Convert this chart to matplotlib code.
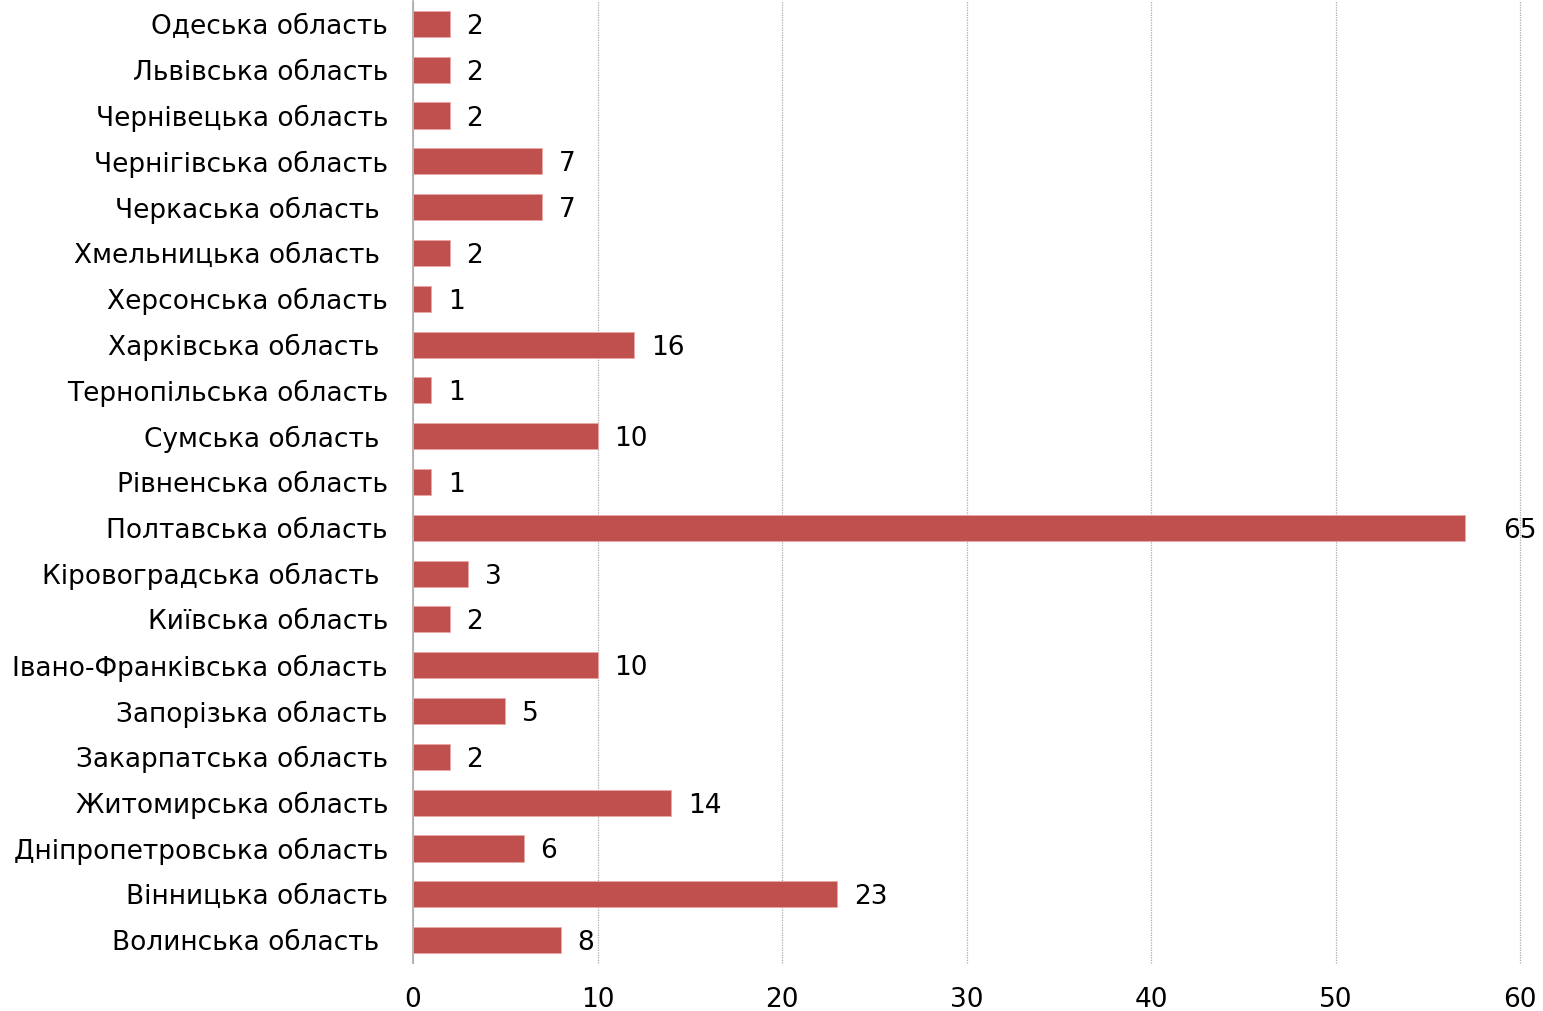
import numpy as np
import matplotlib.pyplot as plt

# regions listed bottom to top, as they appear on the y axis
regions = ['Волинська область ', 'Вінницька область', 'Дніпропетровська область',
           'Житомирська область', 'Закарпатська область', 'Запорізька область',
           'Івано-Франківська область', 'Київська область', 'Кіровоградська область ',
           'Полтавська область', 'Рівненська область', 'Сумська область ',
           'Тернопільська область', 'Харківська область ', 'Херсонська область',
           'Хмельницька область ', 'Черкаська область ', 'Чернігівська область',
           'Чернівецька область', 'Львівська область', 'Одеська область']
# printed labels
counts = [8, 23, 6, 14, 2, 5, 10, 2, 3, 65, 1, 10, 1, 16, 1, 2, 7, 7, 2, 2, 2]
# bar lengths as drawn in the original (two of them do not match their labels)
bar_lengths = [8, 23, 6, 14, 2, 5, 10, 2, 3, 57, 1, 10, 1, 12, 1, 2, 7, 7, 2, 2, 2]
xticks = [0, 10, 20, 30, 40, 50, 60]

bar_color = '#C0504D'
fs = 19

plt.rcParams['font.family'] = 'DejaVu Sans'
fig = plt.figure(figsize=(15.43, 10.11), dpi=100)
ax = fig.add_axes([413 / 1543, 1 - 963 / 1011, (1520 - 413) / 1543, 962 / 1011])

y = np.arange(len(regions))
ax.barh(y, bar_lengths, height=0.57, color=bar_color, edgecolor='#E8A8A6', linewidth=0.6, zorder=3)

for yi, c, b in zip(y, counts, bar_lengths):
    if c > xticks[-1]:
        # value runs past the axis, label sits at the right edge
        ax.text(xticks[-1], yi, str(c), va='center_baseline', ha='center', fontsize=fs)
    else:
        ax.annotate(str(c), (b, yi), xytext=(12, 0), textcoords='offset points',
                    va='center_baseline', ha='left', fontsize=fs)

ax.set_xlim(0, xticks[-1])
ax.set_ylim(-0.5, len(regions) - 0.5)
ax.set_xticks(xticks)
ax.set_yticks(y)
ax.set_yticklabels(regions)
ax.tick_params(axis='both', length=0, labelsize=fs)
ax.tick_params(axis='y', pad=18)
ax.tick_params(axis='x', pad=17)

ax.grid(axis='x', linestyle=(0, (1, 1)), color='#AAAAAA', linewidth=0.9, zorder=0)
for gl in ax.get_xgridlines():
    gl.set_clip_on(False)   # keep the line at 60 visible
for side in ['top', 'right', 'bottom']:
    ax.spines[side].set_visible(False)
ax.spines['left'].set_color('#AAAAAA')
ax.spines['left'].set_linewidth(1.2)

fig.savefig('out.png', dpi=100)
